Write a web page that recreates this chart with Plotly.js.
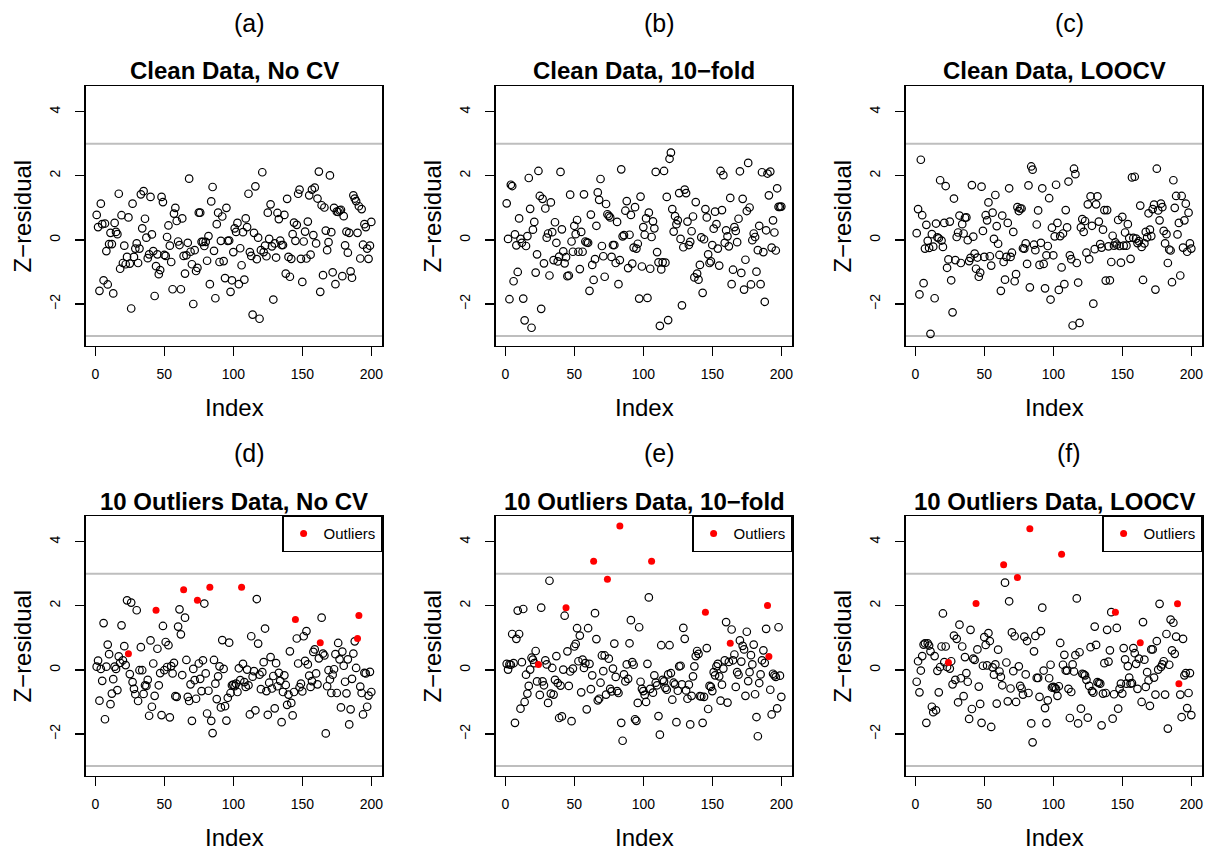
<!DOCTYPE html>
<html><head><meta charset="utf-8">
<script src="https://cdn.plot.ly/plotly-3.0.1.min.js"></script>
<style>html,body{margin:0;padding:0;background:#fff;} #chart{width:1211px;height:854px;}</style>
</head><body><div id="chart"></div>
<script>
const panelLabels = ["(a)","(b)","(c)","(d)","(e)","(f)"];
const panelTitles = ["Clean Data, No CV","Clean Data, 10\u2212fold","Clean Data, LOOCV",
  "10 Outliers Data, No CV","10 Outliers Data, 10\u2212fold","10 Outliers Data, LOOCV"];
const xLabel = "Index";
const yLabel = "Z\u2212residual";
const legendName = "Outliers";
const xTickVals = [0,50,100,150,200];
const yTickVals = [-2,0,2,4];
const refLines = [3,-3];
const outlierIdx = [24,44,64,74,83,106,145,163,190,191];

const resA = [0.78,0.40,-1.59,1.13,0.49,-1.26,0.51,-0.35,-1.39,-0.13,
0.22,-0.13,-1.67,0.53,0.25,0.18,1.44,-0.90,0.77,-0.72,
-0.18,-0.76,-0.53,0.70,-0.74,-2.14,1.13,-0.53,-0.27,-0.11,
-0.72,-0.27,1.42,0.36,1.52,0.66,0.07,-0.57,-0.45,1.34,
0.17,-0.35,-1.75,-0.82,-0.45,-1.07,-0.94,1.34,1.18,-0.47,
-0.50,0.09,0.45,-0.18,-0.69,-1.54,0.82,1.00,0.59,-0.05,
-0.16,-1.54,0.67,-0.50,-1.05,-0.48,-0.09,1.91,-0.37,-0.76,
-2.00,-0.32,-0.97,-0.87,0.85,0.85,-0.06,-0.06,-0.19,-0.06,
-0.65,0.12,-1.38,1.20,1.65,-0.34,-1.82,0.49,0.85,-0.69,
-0.03,0.73,-0.66,-1.19,1.00,-0.03,-0.02,-1.62,-1.26,-0.38,
0.36,0.25,0.53,-1.38,-0.26,-0.79,0.24,-1.24,0.67,0.40,
1.44,-0.38,-0.50,-2.33,0.22,1.67,-0.60,0.07,-2.46,-0.32,
2.11,-0.38,-0.18,-0.51,0.85,0.03,1.11,-0.20,-1.86,-0.11,
-0.55,0.84,0.65,-0.02,-0.16,-0.16,0.78,-1.05,1.28,-0.53,
-1.15,-0.59,0.18,0.54,-0.03,0.47,1.44,1.57,-0.59,-1.31,
-0.05,0.26,-0.58,0.57,1.39,-0.46,1.57,0.15,1.63,-0.11,
1.29,2.13,-1.62,1.08,-1.10,1.01,0.29,-0.32,-0.07,2.01,
0.24,-1.01,1.00,-1.38,0.88,0.87,0.92,0.94,-1.13,0.74,
-0.17,0.26,-0.40,0.22,-0.98,-1.18,1.39,1.29,1.21,0.22,
1.05,-0.58,0.96,-0.15,0.49,0.40,-0.27,-0.59,-0.18,0.56];

const resB = [1.14,0.03,-1.85,1.72,1.68,-1.29,0.17,-0.17,-1.00,0.67,
0.03,-0.09,-1.83,-2.51,-0.19,0.12,1.93,0.97,-2.74,0.32,
0.56,-1.02,-0.45,2.15,1.37,-2.15,1.28,-0.73,0.98,0.07,
0.20,-1.11,1.17,0.24,-0.63,0.55,-0.09,-0.67,-0.52,2.12,
0.33,-0.36,-0.73,-0.54,-1.13,-1.11,1.41,-0.05,-0.37,0.44,
0.18,0.62,-0.37,-0.91,0.25,-0.37,1.42,-0.05,-0.08,-0.09,
-1.59,0.79,-0.78,-1.25,-0.60,0.44,1.48,1.25,1.90,-0.19,
-0.51,-1.15,1.12,0.80,0.75,0.70,-0.53,-0.16,-0.16,-0.72,
0.56,-1.38,-0.63,2.20,0.11,0.15,0.91,1.21,-0.88,0.16,
0.78,-0.74,-0.24,1.02,-0.27,-0.12,-1.83,1.35,-0.83,0.40,
0.16,0.67,-1.81,0.85,-0.90,0.09,0.58,0.36,2.12,-0.38,
-0.70,-2.68,-0.92,-0.70,2.15,-0.71,1.34,-2.50,2.53,2.72,
0.96,0.26,0.74,0.49,0.61,1.46,0.03,-2.04,-0.23,1.57,
1.46,0.57,-0.16,-0.06,0.27,0.73,-1.17,1.18,-1.05,-1.24,
-0.78,0.08,-1.65,0.02,0.96,0.70,-0.45,-0.72,-0.67,-0.16,
0.35,0.88,0.49,-0.27,-0.80,2.15,0.93,2.02,-0.09,0.30,
0.11,-0.20,1.31,-1.38,-0.93,0.40,0.28,-0.07,0.66,2.14,
-1.03,1.28,-1.55,-0.62,0.90,2.40,1.01,-1.39,-0.01,0.20,
0.09,-0.99,-0.32,0.44,-1.38,2.11,-0.38,-1.93,0.30,2.07,
1.39,2.13,-0.24,0.61,0.23,-0.33,1.61,1.03,1.03,1.04];

const resC = [0.21,0.96,-1.70,2.50,0.77,-1.35,-0.27,0.47,-0.03,-0.25,
-2.93,0.18,-0.21,-1.82,0.51,0.08,0.05,1.86,-0.02,-0.22,
0.53,1.68,-0.87,-0.61,0.57,-1.26,-2.26,1.29,-0.63,0.09,
0.23,0.76,-0.72,0.49,0.20,0.69,0.70,-0.01,-0.66,-0.56,
1.71,0.10,-0.43,-0.90,-0.55,-1.15,-1.02,1.66,0.28,-0.53,
0.77,0.61,1.17,-0.51,-0.80,0.85,0.03,1.40,0.43,-0.12,
-0.47,-1.59,0.76,-0.69,-1.24,-0.53,0.53,1.61,-0.53,-0.40,
0.25,-1.29,-1.07,1.02,0.90,0.98,0.98,-0.26,-0.27,-0.11,
-0.75,1.70,-1.48,2.29,2.19,-0.15,-0.32,0.48,0.92,-0.78,
-0.09,1.61,-0.75,-1.51,-0.48,-0.19,1.30,-1.86,0.38,-0.48,
0.11,1.72,0.53,-1.56,0.12,-0.86,0.20,-1.38,0.93,0.39,
1.82,-0.48,-0.60,-2.67,2.22,2.05,-0.72,-1.33,-2.59,0.39,
0.65,0.25,0.59,-0.40,1.11,-0.60,1.36,0.44,-1.99,-0.29,
1.11,1.36,0.57,-0.13,-0.24,0.32,0.93,-1.27,0.93,-0.20,
-1.26,-0.69,0.13,-0.18,-0.08,-0.15,0.62,-0.19,-0.71,0.72,
-0.18,0.23,-0.18,0.49,0.06,-0.59,1.95,0.06,1.97,0.04,
-0.10,-0.04,1.07,-0.22,-1.25,-0.11,0.25,0.08,0.83,0.32,
0.12,0.96,1.10,-1.55,2.22,0.92,0.61,1.13,1.02,0.28,
-0.11,0.18,-0.72,-0.30,-0.33,-1.32,1.86,1.00,1.37,0.17,
0.53,-1.11,1.37,-0.24,0.61,1.13,-0.37,0.85,-0.11,-0.27];

const resD = [0.10,0.29,-0.96,0.03,-0.34,1.46,-1.54,0.10,0.79,0.49,
-1.07,-0.74,-0.29,0.10,0.03,-0.63,0.42,0.22,1.39,0.30,
0.74,0.15,2.17,0.50,-0.13,2.10,-0.38,-0.59,-0.76,1.86,
-0.97,-0.01,0.71,-0.01,-0.75,-0.48,-0.50,-0.31,-1.43,0.92,
-1.15,0.20,-0.81,1.86,0.66,-0.48,-0.10,-1.41,1.37,-0.01,
0.87,0.09,0.77,-1.48,0.12,-0.11,0.22,-0.82,-0.84,1.35,
1.89,1.11,-0.16,2.50,1.63,0.31,-0.84,-0.97,-0.45,-1.59,
0.03,-0.32,-0.90,2.17,0.20,-0.28,-0.66,0.30,2.07,-0.11,
-1.36,-0.65,2.58,-1.59,-1.97,0.31,-0.43,-0.91,-0.20,0.11,
-1.17,0.93,0.03,-1.13,-1.58,-0.87,0.85,-0.72,-0.48,-0.46,
-0.51,-0.43,-0.69,0.05,-0.32,2.58,0.19,-0.38,-0.53,0.01,
-0.48,-1.39,1.05,-0.21,-0.04,-1.26,2.21,0.82,-0.15,-0.60,
-0.07,0.24,1.29,-0.66,-1.40,-0.40,0.40,-0.58,-0.19,-1.20,
0.21,-0.51,-0.09,-0.34,-1.63,-0.69,-0.17,-0.47,-1.09,-0.77,
0.58,-1.03,-1.42,-0.69,1.57,0.98,0.20,-0.54,-0.43,-0.67,
1.05,0.28,1.21,0.17,-0.18,-0.53,-0.35,0.56,0.64,-0.11,
-0.45,0.36,0.85,1.63,0.51,0.45,-1.98,-0.51,-0.01,-0.30,
-0.72,-0.15,0.02,0.49,-0.72,0.84,0.33,-1.17,0.57,0.13,
-0.37,-0.73,0.33,-1.70,-1.23,-0.28,0.51,0.89,0.06,0.98,
1.70,-0.52,-0.72,-1.39,-0.09,-0.11,-1.15,-0.80,-0.06,-0.69];

const resE = [0.19,0.01,0.17,0.16,1.12,0.21,-1.65,0.97,1.85,1.12,
-1.21,0.24,1.90,-1.00,-0.15,-0.74,-0.50,0.01,0.38,0.32,
0.21,0.59,-0.36,0.17,-0.78,1.94,-0.36,-0.48,0.30,0.17,
-1.03,2.78,-0.74,0.06,-0.77,-0.31,0.43,-0.41,-1.50,-0.49,
-1.45,0.01,1.69,1.94,0.58,-0.50,-0.05,-1.60,0.04,0.73,
0.81,1.30,0.27,1.07,-0.70,0.32,0.06,0.21,-1.23,1.30,
0.19,-0.60,-0.17,3.39,1.77,0.96,-0.95,-0.90,-0.40,0.45,
-0.04,0.45,-0.77,2.83,0.35,-0.59,-0.67,0.04,0.82,-0.22,
-0.66,-0.72,4.49,-1.65,-2.21,-0.14,-0.36,0.17,-0.28,0.83,
1.55,0.24,0.16,-1.54,-1.59,-1.03,1.33,-0.37,-0.59,-0.66,
-0.78,-1.00,0.19,2.26,-0.59,3.39,-0.71,-0.17,-0.40,-0.48,
-1.44,-2.02,0.77,-0.31,-0.36,-0.56,-0.62,-0.14,0.77,-0.10,
-0.93,-0.40,-0.45,-1.63,-0.65,0.11,0.13,-0.45,1.31,0.97,
-0.64,-0.90,-0.46,-1.70,-0.81,-0.20,0.11,0.43,0.59,0.50,
-0.82,-0.83,-1.65,-0.84,1.80,0.68,-1.22,-0.50,-0.53,-0.66,
-0.07,-0.17,0.11,0.19,-0.20,-0.96,-0.46,0.04,0.30,1.49,
-1.02,0.25,0.83,1.26,0.30,0.48,-0.53,-0.07,-0.15,0.92,
0.26,0.75,0.64,-0.81,1.19,-0.35,-0.07,0.46,0.17,0.79,
-0.76,-1.47,-2.07,-0.41,-0.14,0.30,0.61,0.22,1.28,2.01,
0.42,-0.62,-1.39,-0.12,-0.17,-0.22,-1.20,1.33,-0.18,-0.84];

const resF = [-0.37,0.27,-0.70,-0.02,0.43,0.79,0.83,-1.65,0.83,0.76,
0.58,-1.15,-1.32,0.43,-1.26,-0.03,-0.70,0.09,0.73,1.76,
0.24,0.73,0.09,0.23,0.04,0.27,-0.45,1.07,-0.31,0.97,
-1.01,1.41,-0.26,0.73,-0.82,0.40,-0.10,-0.37,-1.53,1.25,
-1.22,0.35,0.31,2.07,0.64,-0.52,-1.06,-1.65,0.13,1.02,
0.78,0.14,1.15,0.90,-1.78,0.08,-0.15,0.17,-1.05,0.63,
-0.05,-0.22,-0.48,3.28,2.72,0.23,-0.98,2.14,-0.58,1.17,
-0.04,1.05,-1.00,2.88,0.11,-0.50,-0.58,-0.77,1.04,-0.14,
0.90,-0.72,4.40,-1.67,-2.26,0.58,1.06,-0.25,-0.25,-0.84,
1.21,1.94,-0.02,-1.19,-1.66,-0.95,-0.26,0.16,-0.55,-0.53,
-0.55,-0.59,-0.81,-0.51,0.84,3.61,0.16,0.47,-0.02,-0.02,
-0.59,-1.50,-0.69,0.17,-0.05,0.46,2.23,-1.67,0.55,-1.21,
-0.12,-0.14,-0.17,-0.31,-1.49,-0.50,0.71,-0.66,-0.71,1.35,
0.78,-0.38,-0.41,-0.43,-1.73,-0.74,0.21,-0.72,1.25,0.26,
0.61,1.80,-1.52,-0.76,1.80,1.31,-1.21,-0.59,-0.43,-0.74,
0.68,0.33,-0.43,0.12,-0.24,-0.43,-0.41,0.68,0.52,0.19,
-0.59,0.35,0.85,-1.00,1.49,0.32,-0.53,-0.07,-0.33,-1.12,
0.64,0.64,-0.24,-0.77,0.90,0.01,2.06,0.09,0.17,0.27,
-0.77,1.12,-1.83,0.16,1.57,0.61,1.47,0.50,1.04,2.06,
-0.43,-0.77,-1.47,0.97,-0.17,-0.10,-1.19,-0.72,-0.10,-1.41];

const panelData = [resA,resB,resC,resD,resE,resF];
const hasOutliers = [false,false,false,true,true,true];

// ---- layout geometry (pixels) ----
const W = 1211, H = 854;
const FONT = "Liberation Sans, Arial, Helvetica, sans-serif";
const colLeft = [85.7, 495.7, 905.7];
const boxW = 296.6;
const rowTop = [86, 516];
const boxH = 259.7;

const px = v => v / W;
const py = v => 1 - v / H;

const traces = [];
const layout = {
  width: W, height: H,
  margin: {l:0, r:0, t:0, b:0},
  paper_bgcolor: "white", plot_bgcolor: "white",
  font: {family: FONT, color: "black"},
  showlegend: true,
  annotations: [], shapes: []
};

const legendKeys = ["legend","legend2","legend3"];

for (let p = 0; p < 6; p++) {
  const col = p % 3, row = Math.floor(p / 3);
  const sfx = p === 0 ? "" : String(p + 1);
  const xa = "xaxis" + sfx, ya = "yaxis" + sfx;
  const xr = "x" + sfx, yr = "y" + sfx;
  const l = colLeft[col], t = rowTop[row];
  const axCommon = {
    showline: true, mirror: true, linecolor: "black", linewidth: 1.4,
    ticks: "outside", ticklen: 9, tickwidth: 1.3, tickcolor: "black",
    showgrid: false, zeroline: false,
    tickfont: {size: 14, family: FONT, color: "black"},
    fixedrange: true
  };
  layout[xa] = Object.assign({}, axCommon, {
    domain: [px(l), px(l + boxW)], anchor: yr,
    range: [-6.96, 207.96], tickmode: "array", tickvals: xTickVals,
    ticklabelstandoff: 6
  });
  layout[ya] = Object.assign({}, axCommon, {
    domain: [py(t + boxH), py(t)], anchor: xr,
    range: [-3.3, 4.8], tickmode: "array", tickvals: yTickVals,
    tickangle: -90, ticklabelstandoff: 10
  });

  // reference lines at +/-3
  refLines.forEach(v => {
    layout.shapes.push({type: "line", xref: xr + " domain", yref: yr,
      x0: 0, x1: 1, y0: v, y1: v, layer: "below",
      line: {color: "#BEBEBE", width: 2}});
  });

  const vals = panelData[p];
  const bx = [], by = [], rx = [], ry = [];
  vals.forEach((v, i) => {
    const idx = i + 1;
    if (hasOutliers[p] && outlierIdx.includes(idx)) { rx.push(idx); ry.push(v); }
    else { bx.push(idx); by.push(v); }
  });
  traces.push({type: "scatter", mode: "markers", x: bx, y: by, xaxis: xr, yaxis: yr,
    showlegend: false, hoverinfo: "skip",
    marker: {symbol: "circle-open", size: 7.5, color: "black", line: {width: 1.2, color: "black"}}});
  if (hasOutliers[p]) {
    const lk = legendKeys[col];
    traces.push({type: "scatter", mode: "markers", x: rx, y: ry, xaxis: xr, yaxis: yr,
      name: legendName, legend: lk, showlegend: true, hoverinfo: "skip",
      marker: {symbol: "circle", size: 7, color: "#FF0000"}});
    layout[lk] = {x: px(l + boxW), xanchor: "right", y: py(t), yanchor: "top",
      xref: "paper", yref: "paper", bgcolor: "white", bordercolor: "black", borderwidth: 1.3,
      font: {size: 15, family: FONT, color: "black"}, itemwidth: 30, tracegroupgap: 0};
  }

  const cx = l + boxW / 2;
  layout.annotations.push({text: panelLabels[p], xref: "paper", yref: "paper",
    x: px(cx + 15), y: py(t - 63), xanchor: "center", yanchor: "middle", showarrow: false,
    font: {size: 25, family: FONT}});
  layout.annotations.push({text: "<b>" + panelTitles[p] + "</b>", xref: "paper", yref: "paper",
    x: px(cx), y: py(t - 15), xanchor: "center", yanchor: "middle", showarrow: false,
    font: {size: 24, family: FONT}});
  layout.annotations.push({text: xLabel, xref: "paper", yref: "paper",
    x: px(cx), y: py(t + boxH + 62), xanchor: "center", yanchor: "middle", showarrow: false,
    font: {size: 24, family: FONT}});
  layout.annotations.push({text: yLabel, xref: "paper", yref: "paper", textangle: -90,
    x: px(l - 63), y: py(t + boxH / 2), xanchor: "center", yanchor: "middle", showarrow: false,
    font: {size: 24, family: FONT}});
}

Plotly.newPlot("chart", traces, layout, {displayModeBar: false, staticPlot: true});
</script>
</body></html>
